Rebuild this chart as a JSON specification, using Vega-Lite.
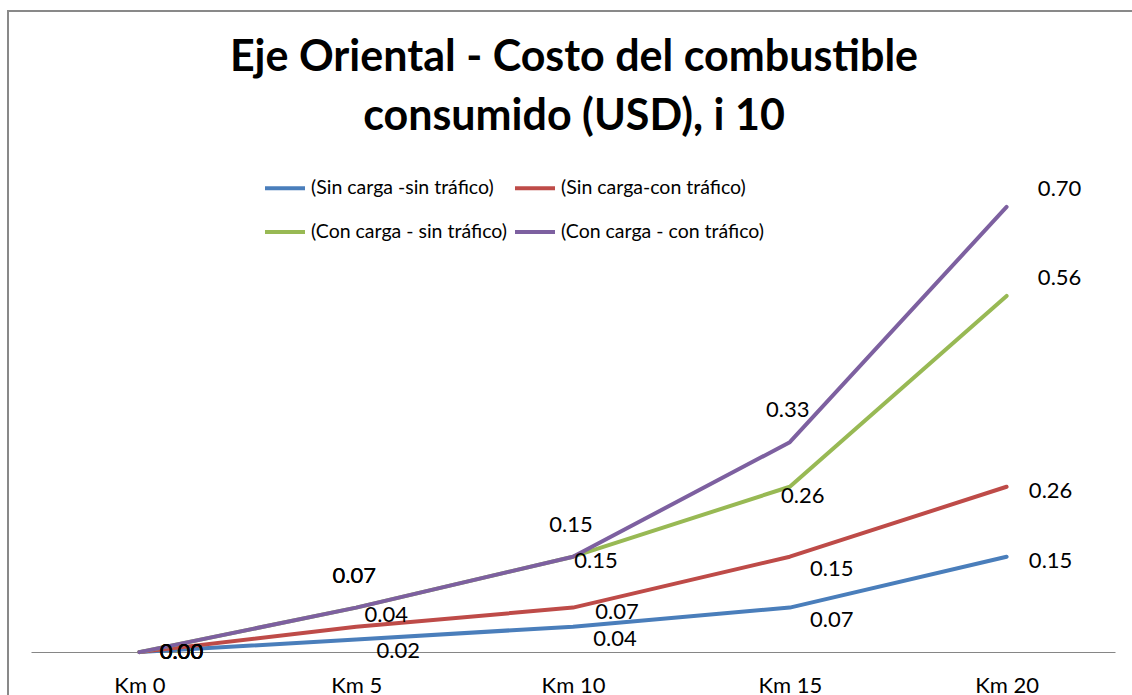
{
  "$schema": "https://vega.github.io/schema/vega-lite/v6.json",
  "autosize": "none",
  "padding": {"left": 8, "top": 11, "right": -8, "bottom": -8},
  "width": 1132,
  "height": 692,
  "background": "white",
  "config": {
    "font": "Lato",
    "view": {"stroke": "#898989", "strokeWidth": 2}
  },
  "title": {
    "text": ["Eje Oriental - Costo del combustible", "consumido (USD), i 10"],
    "font": "Lato",
    "fontSize": 43,
    "fontWeight": "bold",
    "color": "#000000",
    "lineHeight": 59,
    "anchor": "middle",
    "offset": -128
  },
  "data": {
    "values": [
      {"km": "Km 0", "grupo": "A", "serie": "(Sin carga -sin tráfico)", "costo": 0.00},
      {"km": "Km 5", "grupo": "A", "serie": "(Sin carga -sin tráfico)", "costo": 0.02},
      {"km": "Km 10", "grupo": "A", "serie": "(Sin carga -sin tráfico)", "costo": 0.04},
      {"km": "Km 15", "grupo": "A", "serie": "(Sin carga -sin tráfico)", "costo": 0.07},
      {"km": "Km 20", "grupo": "A", "serie": "(Sin carga -sin tráfico)", "costo": 0.15},
      {"km": "Km 0", "grupo": "B", "serie": "(Sin carga-con tráfico)", "costo": 0.00},
      {"km": "Km 5", "grupo": "B", "serie": "(Sin carga-con tráfico)", "costo": 0.04},
      {"km": "Km 10", "grupo": "B", "serie": "(Sin carga-con tráfico)", "costo": 0.07},
      {"km": "Km 15", "grupo": "B", "serie": "(Sin carga-con tráfico)", "costo": 0.15},
      {"km": "Km 20", "grupo": "B", "serie": "(Sin carga-con tráfico)", "costo": 0.26},
      {"km": "Km 0", "grupo": "C", "serie": "(Con carga - sin tráfico)", "costo": 0.00},
      {"km": "Km 5", "grupo": "C", "serie": "(Con carga - sin tráfico)", "costo": 0.07},
      {"km": "Km 10", "grupo": "C", "serie": "(Con carga - sin tráfico)", "costo": 0.15},
      {"km": "Km 15", "grupo": "C", "serie": "(Con carga - sin tráfico)", "costo": 0.26},
      {"km": "Km 20", "grupo": "C", "serie": "(Con carga - sin tráfico)", "costo": 0.56},
      {"km": "Km 0", "grupo": "D", "serie": "(Con carga - con tráfico)", "costo": 0.00},
      {"km": "Km 5", "grupo": "D", "serie": "(Con carga - con tráfico)", "costo": 0.07},
      {"km": "Km 10", "grupo": "D", "serie": "(Con carga - con tráfico)", "costo": 0.15},
      {"km": "Km 15", "grupo": "D", "serie": "(Con carga - con tráfico)", "costo": 0.33},
      {"km": "Km 20", "grupo": "D", "serie": "(Con carga - con tráfico)", "costo": 0.70}
    ]
  },
  "encoding": {
    "x": {
      "field": "km",
      "type": "ordinal",
      "sort": ["Km 0", "Km 5", "Km 10", "Km 15", "Km 20"],
      "scale": {"type": "point", "range": [23, 1107], "padding": 0.5},
      "axis": {
        "title": null,
        "offset": -51,
        "domainColor": "#868686",
        "domainWidth": 1,
        "ticks": false,
        "labelAngle": 0,
        "labelFont": "Lato",
        "labelFontSize": 22,
        "labelColor": "#000000",
        "labelBaseline": "alphabetic",
        "labelPadding": 40,
        "grid": false
      }
    },
    "y": {
      "field": "costo",
      "type": "quantitative",
      "scale": {"domain": [-0.08, 1.008], "nice": false, "zero": false},
      "axis": null
    }
  },
  "layer": [
    {
      "mark": {"type": "line", "strokeWidth": 4, "strokeCap": "round", "strokeJoin": "round"},
      "encoding": {
        "color": {
          "field": "serie",
          "type": "nominal",
          "scale": {
            "domain": ["(Sin carga -sin tráfico)", "(Sin carga-con tráfico)", "(Con carga - sin tráfico)", "(Con carga - con tráfico)"],
            "range": ["#4A7EBB", "#BE4B48", "#98B954", "#7D60A0"]
          },
          "legend": {
            "title": null,
            "orient": "none",
            "direction": "horizontal",
            "legendX": 255,
            "legendY": 155,
            "columns": 2,
            "padding": 0,
            "symbolType": "stroke",
            "symbolSize": 1600,
            "symbolStrokeWidth": 4,
            "labelFont": "Lato",
            "labelFontSize": 19.5,
            "labelColor": "#000000",
            "labelLimit": 400,
            "labelOffset": 4,
            "rowPadding": 12,
            "columnPadding": 0
          }
        }
      }
    },
    {
      "transform": [{"filter": "datum.km == 'Km 0'"}],
      "mark": {"type": "text", "dx": 42, "dy": 0, "fontSize": 22, "font": "Lato", "color": "#000000", "baseline": "middle"},
      "encoding": {"text": {"field": "costo", "type": "quantitative", "format": ".2f"}}
    },
    {
      "transform": [{"filter": "(datum.grupo == 'A' && datum.km == 'Km 20') || (datum.grupo == 'B' && (datum.km == 'Km 20' || datum.km == 'Km 10'))"}],
      "mark": {"type": "text", "dx": 44, "dy": 4, "fontSize": 22, "font": "Lato", "color": "#000000", "baseline": "middle"},
      "encoding": {"text": {"field": "costo", "type": "quantitative", "format": ".2f"}}
    },
    {
      "transform": [{"filter": "(datum.grupo == 'A' && (datum.km == 'Km 5' || datum.km == 'Km 10' || datum.km == 'Km 15')) || (datum.grupo == 'B' && datum.km == 'Km 15')"}],
      "mark": {"type": "text", "dx": 42, "dy": 12, "fontSize": 22, "font": "Lato", "color": "#000000", "baseline": "middle"},
      "encoding": {"text": {"field": "costo", "type": "quantitative", "format": ".2f"}}
    },
    {
      "transform": [{"filter": "datum.grupo == 'B' && datum.km == 'Km 5'"}],
      "mark": {"type": "text", "dx": 30, "dy": -12, "fontSize": 22, "font": "Lato", "color": "#000000", "baseline": "middle"},
      "encoding": {"text": {"field": "costo", "type": "quantitative", "format": ".2f"}}
    },
    {
      "transform": [{"filter": "(datum.grupo == 'C' && datum.km == 'Km 5') || (datum.grupo == 'D' && (datum.km == 'Km 5' || datum.km == 'Km 10' || datum.km == 'Km 15'))"}],
      "mark": {"type": "text", "dx": -2, "dy": -32, "fontSize": 22, "font": "Lato", "color": "#000000", "baseline": "middle"},
      "encoding": {"text": {"field": "costo", "type": "quantitative", "format": ".2f"}}
    },
    {
      "transform": [{"filter": "datum.grupo == 'C' && datum.km == 'Km 10'"}],
      "mark": {"type": "text", "dx": 23, "dy": 4, "fontSize": 22, "font": "Lato", "color": "#000000", "baseline": "middle"},
      "encoding": {"text": {"field": "costo", "type": "quantitative", "format": ".2f"}}
    },
    {
      "transform": [{"filter": "datum.grupo == 'C' && datum.km == 'Km 15'"}],
      "mark": {"type": "text", "dx": 13, "dy": 9, "fontSize": 22, "font": "Lato", "color": "#000000", "baseline": "middle"},
      "encoding": {"text": {"field": "costo", "type": "quantitative", "format": ".2f"}}
    },
    {
      "transform": [{"filter": "(datum.grupo == 'C' || datum.grupo == 'D') && datum.km == 'Km 20'"}],
      "mark": {"type": "text", "dx": 53, "dy": -18, "fontSize": 22, "font": "Lato", "color": "#000000", "baseline": "middle"},
      "encoding": {"text": {"field": "costo", "type": "quantitative", "format": ".2f"}}
    }
  ]
}
